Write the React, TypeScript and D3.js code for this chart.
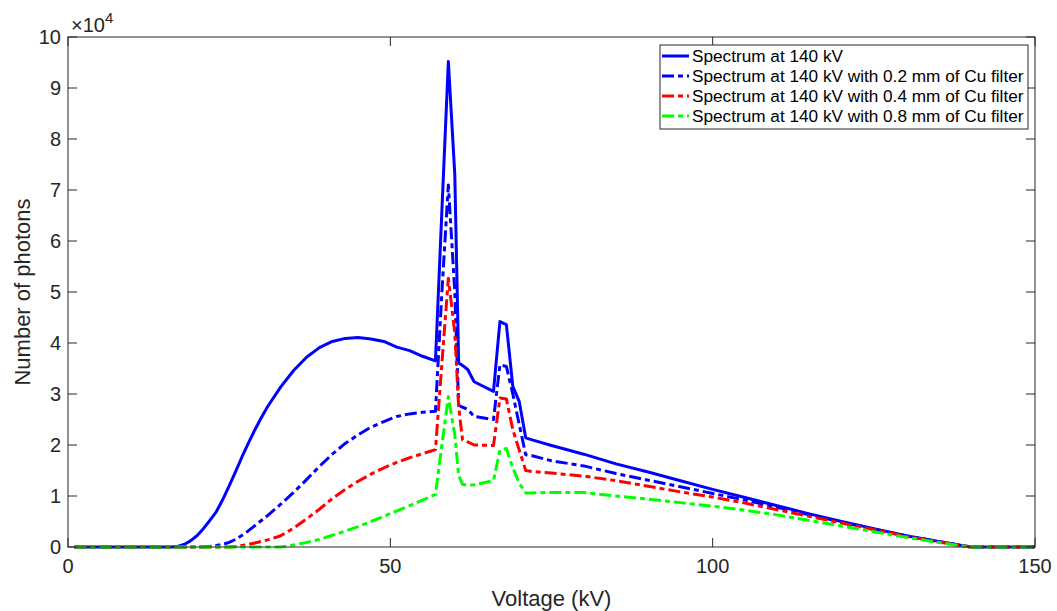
import React from "react";
import * as d3 from "d3";

// Shared energy grid (kV)
const kV = [1, 15, 16, 17, 18, 19, 20, 21, 22, 23, 24, 25, 26, 27, 28, 29, 30, 31, 33, 35, 37, 39, 41, 43, 45, 47, 49, 51, 53, 55, 57, 58, 59, 60, 60.6, 61.2, 62, 63, 66, 67, 68, 69, 70, 71, 72, 75, 80, 85, 90, 95, 100, 105, 110, 115, 120, 125, 130, 135, 140, 150];

// Number of photons (x 10^4)
const spectrum140 = [0, 0, 0, 0.01, 0.05, 0.12, 0.22, 0.36, 0.52, 0.69, 0.93, 1.2, 1.48, 1.77, 2.04, 2.3, 2.54, 2.76, 3.14, 3.46, 3.72, 3.91, 4.03, 4.09, 4.11, 4.08, 4.03, 3.92, 3.85, 3.74, 3.65, 6.6, 9.52, 7.3, 3.61, 3.56, 3.48, 3.24, 3.05, 4.42, 4.36, 3.15, 2.85, 2.14, 2.1, 1.99, 1.82, 1.63, 1.47, 1.3, 1.13, 0.97, 0.81, 0.65, 0.5, 0.36, 0.22, 0.11, 0, 0];
const cu02 = [0, 0, 0, 0, 0, 0, 0, 0, 0.01, 0.03, 0.05, 0.09, 0.15, 0.23, 0.32, 0.42, 0.52, 0.62, 0.84, 1.07, 1.32, 1.58, 1.82, 2.03, 2.2, 2.35, 2.46, 2.56, 2.61, 2.64, 2.66, 5.0, 7.1, 5.0, 2.78, 2.74, 2.7, 2.56, 2.5, 3.57, 3.54, 3.0, 2.4, 1.81, 1.79, 1.69, 1.59, 1.44, 1.31, 1.18, 1.05, 0.92, 0.78, 0.63, 0.49, 0.35, 0.22, 0.11, 0, 0];
const cu04 = [0, 0, 0, 0, 0, 0, 0, 0, 0, 0, 0, 0, 0.01, 0.03, 0.05, 0.08, 0.11, 0.14, 0.22, 0.37, 0.55, 0.74, 0.95, 1.13, 1.29, 1.43, 1.55, 1.66, 1.75, 1.83, 1.91, 3.6, 5.27, 4.2, 2.75, 2.1, 2.06, 2.0, 1.99, 2.92, 2.9, 2.3, 1.9, 1.5, 1.48, 1.45, 1.39, 1.3, 1.19, 1.08, 0.98, 0.86, 0.73, 0.6, 0.47, 0.34, 0.21, 0.1, 0, 0];
const cu08 = [0, 0, 0, 0, 0, 0, 0, 0, 0, 0, 0, 0, 0, 0, 0, 0, 0, 0, 0, 0.04, 0.09, 0.15, 0.23, 0.31, 0.4, 0.5, 0.6, 0.71, 0.81, 0.92, 1.03, 2.0, 2.95, 2.2, 1.4, 1.23, 1.21, 1.22, 1.3, 1.9, 1.93, 1.55, 1.25, 1.06, 1.06, 1.07, 1.07, 1.0, 0.94, 0.87, 0.8, 0.72, 0.63, 0.52, 0.41, 0.3, 0.19, 0.09, 0, 0];

const seriesNames = [
  "Spectrum at 140 kV",
  "Spectrum at 140 kV with 0.2 mm of Cu filter",
  "Spectrum at 140 kV with 0.4 mm of Cu filter",
  "Spectrum at 140 kV with 0.8 mm of Cu filter",
];
const seriesValues = [spectrum140, cu02, cu04, cu08];
const seriesColors = ["#0000ff", "#0000ff", "#ff0000", "#00ff00"];
const seriesDash = ["none", "12,4,5,4", "12,4,5,4", "12,4,5,4"];

const xTicks = [0, 50, 100, 150];
const yTicks = [0, 1, 2, 3, 4, 5, 6, 7, 8, 9, 10];

const W = 1057;
const H = 611;
const L = 68;
const R = 1035;
const T = 37;
const B = 547;
const AX = "#262626";
const FONT = "'Liberation Sans', Arial, Helvetica, sans-serif";

export default function App() {
  const x = d3.scaleLinear().domain([0, 150]).range([L, R]);
  const y = d3.scaleLinear().domain([0, 10]).range([B, T]);
  const line = d3
    .line<number>()
    .x((_, i) => x(kV[i]))
    .y((d) => y(d));
  const tick = 9;

  return (
    <svg
      width={W}
      height={H}
      style={{ position: "absolute", left: 0, top: 0, background: "#fff" }}
      fontFamily={FONT}
    >
      <rect x={0} y={0} width={W} height={H} fill="#fff" />
      {seriesValues.map((vals, i) => (
        <path
          key={i}
          d={line(vals) || ""}
          fill="none"
          stroke={seriesColors[i]}
          strokeWidth={3}
          strokeDasharray={seriesDash[i]}
          strokeLinejoin="round"
        />
      ))}
      <rect x={L} y={T} width={R - L} height={B - T} fill="none" stroke={AX} strokeWidth={1} />
      {xTicks.map((t) => (
        <g key={"x" + t}>
          <line x1={x(t)} x2={x(t)} y1={B} y2={B - tick} stroke={AX} />
          <line x1={x(t)} x2={x(t)} y1={T} y2={T + tick} stroke={AX} />
          <text x={x(t)} y={573} textAnchor="middle" fontSize={20} fill={AX}>
            {t}
          </text>
        </g>
      ))}
      {yTicks.map((t) => (
        <g key={"y" + t}>
          <line x1={L} x2={L + tick} y1={y(t)} y2={y(t)} stroke={AX} />
          <line x1={R} x2={R - tick} y1={y(t)} y2={y(t)} stroke={AX} />
          <text x={61} y={y(t) + 7} textAnchor="end" fontSize={20} fill={AX}>
            {t}
          </text>
        </g>
      ))}
      <text x={71} y={32} fontSize={20} fill={AX}>
        {"\u00d710"}
        <tspan dy={-9} fontSize={15}>
          4
        </tspan>
      </text>
      <text x={(L + R) / 2} y={606} textAnchor="middle" fontSize={22} fill={AX}>
        Voltage (kV)
      </text>
      <text
        transform={`translate(30,${(T + B) / 2}) rotate(-90)`}
        textAnchor="middle"
        fontSize={22}
        fill={AX}
      >
        Number of photons
      </text>
      <rect x={660} y={45} width={368} height={84} fill="#fff" stroke={AX} strokeWidth={1} />
      {seriesNames.map((name, i) => {
        const cy = 56 + i * 20;
        return (
          <g key={"lg" + i}>
            <line
              x1={662}
              x2={689}
              y1={cy}
              y2={cy}
              stroke={seriesColors[i]}
              strokeWidth={3}
              strokeDasharray={seriesDash[i]}
            />
            <text x={692} y={cy + 6} fontSize={17.2} fill="#000">
              {name}
            </text>
          </g>
        );
      })}
    </svg>
  );
}
